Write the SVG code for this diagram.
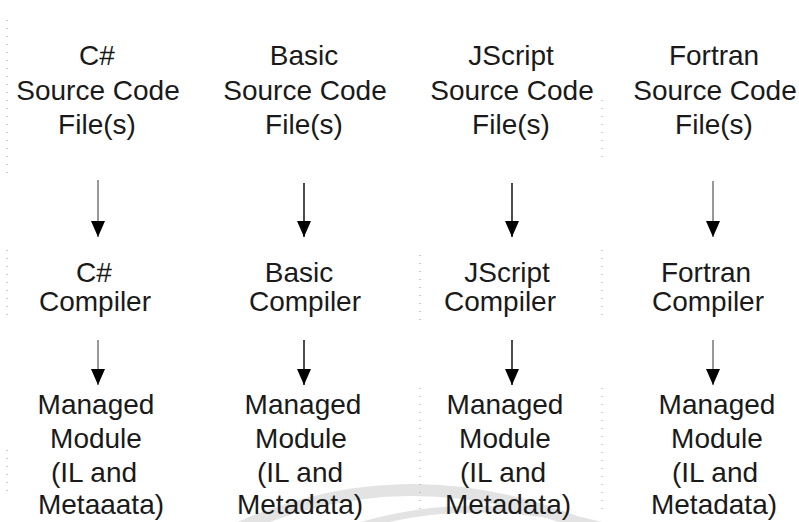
<svg xmlns="http://www.w3.org/2000/svg" width="799" height="522" viewBox="0 0 799 522">
  <style>
    .t { font-family: "Liberation Sans", Arial, sans-serif; font-size: 28px; fill: #1a1a1a; text-anchor: middle; }
    .ln { stroke: #000; stroke-width: 1.4; fill: none; }
    .ln.thin { stroke: #333; stroke-width: 1; }
    .dots { stroke: #9a9a9a; stroke-width: 1; stroke-dasharray: 1 7; fill: none; }
    .swoosh { fill: none; stroke: #e3e3e3; }
  </style>
  <defs>
    <marker id="head" viewBox="0 0 16 14" refX="16" refY="7" markerWidth="16" markerHeight="14" markerUnits="userSpaceOnUse" orient="auto">
      <path d="M0,0 L16,7 L0,14 Z" fill="#000"/>
    </marker>
  </defs>

  <rect width="799" height="522" fill="#fff"/>

  <!-- faint background swoosh at the bottom -->
  <g id="swoosh">
    <path class="swoosh" stroke-width="12" d="M230,532 Q410,448 600,532"/>
    <path class="swoosh" stroke-width="7" d="M320,540 Q470,478 650,540"/>
  </g>

  <!-- faint column separators -->
  <g id="separators">
    <line class="dots" x1="7" y1="20" x2="7" y2="180"/>
    <line class="dots" x1="7" y1="250" x2="7" y2="320"/>
    <line class="dots" x1="7" y1="450" x2="7" y2="495"/>
    <line class="dots" x1="602" y1="100" x2="602" y2="160"/>
    <line class="dots" x1="602" y1="250" x2="602" y2="322"/>
    <line class="dots" x1="602" y1="388" x2="602" y2="512"/>
    <line class="dots" x1="420" y1="255" x2="420" y2="325"/>
    <line class="dots" x1="420" y1="388" x2="420" y2="512"/>
  </g>

  <!-- source file nodes -->
  <g id="src-csharp">
    <text class="t" x="97" y="65">C#</text>
    <text class="t" x="98" y="100">Source Code</text>
    <text class="t" x="97" y="134">File(s)</text>
  </g>
  <g id="src-basic">
    <text class="t" x="304" y="65">Basic</text>
    <text class="t" x="305" y="100">Source Code</text>
    <text class="t" x="304" y="134">File(s)</text>
  </g>
  <g id="src-jscript">
    <text class="t" x="511" y="65">JScript</text>
    <text class="t" x="512" y="100">Source Code</text>
    <text class="t" x="511" y="134">File(s)</text>
  </g>
  <g id="src-fortran">
    <text class="t" x="714" y="65">Fortran</text>
    <text class="t" x="715" y="100">Source Code</text>
    <text class="t" x="714" y="134">File(s)</text>
  </g>

  <!-- compiler nodes -->
  <g id="cmp-csharp">
    <text class="t" x="94" y="282">C#</text>
    <text class="t" x="95" y="311">Compiler</text>
  </g>
  <g id="cmp-basic">
    <text class="t" x="299" y="282">Basic</text>
    <text class="t" x="305" y="311">Compiler</text>
  </g>
  <g id="cmp-jscript">
    <text class="t" x="507" y="282">JScript</text>
    <text class="t" x="500" y="311">Compiler</text>
  </g>
  <g id="cmp-fortran">
    <text class="t" x="706" y="282">Fortran</text>
    <text class="t" x="708" y="311">Compiler</text>
  </g>

  <!-- managed module nodes -->
  <g id="mod-csharp">
    <text class="t" x="96" y="414">Managed</text>
    <text class="t" x="96" y="448">Module</text>
    <text class="t" x="94" y="482">(IL and</text>
    <text class="t" x="101" y="514">Metaaata)</text>
  </g>
  <g id="mod-basic">
    <text class="t" x="303" y="414">Managed</text>
    <text class="t" x="301" y="448">Module</text>
    <text class="t" x="300" y="482">(IL and</text>
    <text class="t" x="300" y="514">Metadata)</text>
  </g>
  <g id="mod-jscript">
    <text class="t" x="505" y="414">Managed</text>
    <text class="t" x="505" y="448">Module</text>
    <text class="t" x="503" y="482">(IL and</text>
    <text class="t" x="508" y="514">Metadata)</text>
  </g>
  <g id="mod-fortran">
    <text class="t" x="717" y="414">Managed</text>
    <text class="t" x="717" y="448">Module</text>
    <text class="t" x="715" y="482">(IL and</text>
    <text class="t" x="714" y="514">Metadata)</text>
  </g>

  <!-- connectors -->
  <g id="connectors">
    <line class="ln thin" x1="98" y1="180" x2="98" y2="237" marker-end="url(#head)"/>
    <line class="ln" x1="304" y1="183" x2="304" y2="237" marker-end="url(#head)"/>
    <line class="ln" x1="512" y1="183" x2="512" y2="237" marker-end="url(#head)"/>
    <line class="ln thin" x1="713" y1="181" x2="713" y2="237" marker-end="url(#head)"/>

    <line class="ln thin" x1="98" y1="340" x2="98" y2="385" marker-end="url(#head)"/>
    <line class="ln" x1="304" y1="340" x2="304" y2="385" marker-end="url(#head)"/>
    <line class="ln" x1="512" y1="340" x2="512" y2="385" marker-end="url(#head)"/>
    <line class="ln thin" x1="713" y1="340" x2="713" y2="385" marker-end="url(#head)"/>
  </g>
</svg>
